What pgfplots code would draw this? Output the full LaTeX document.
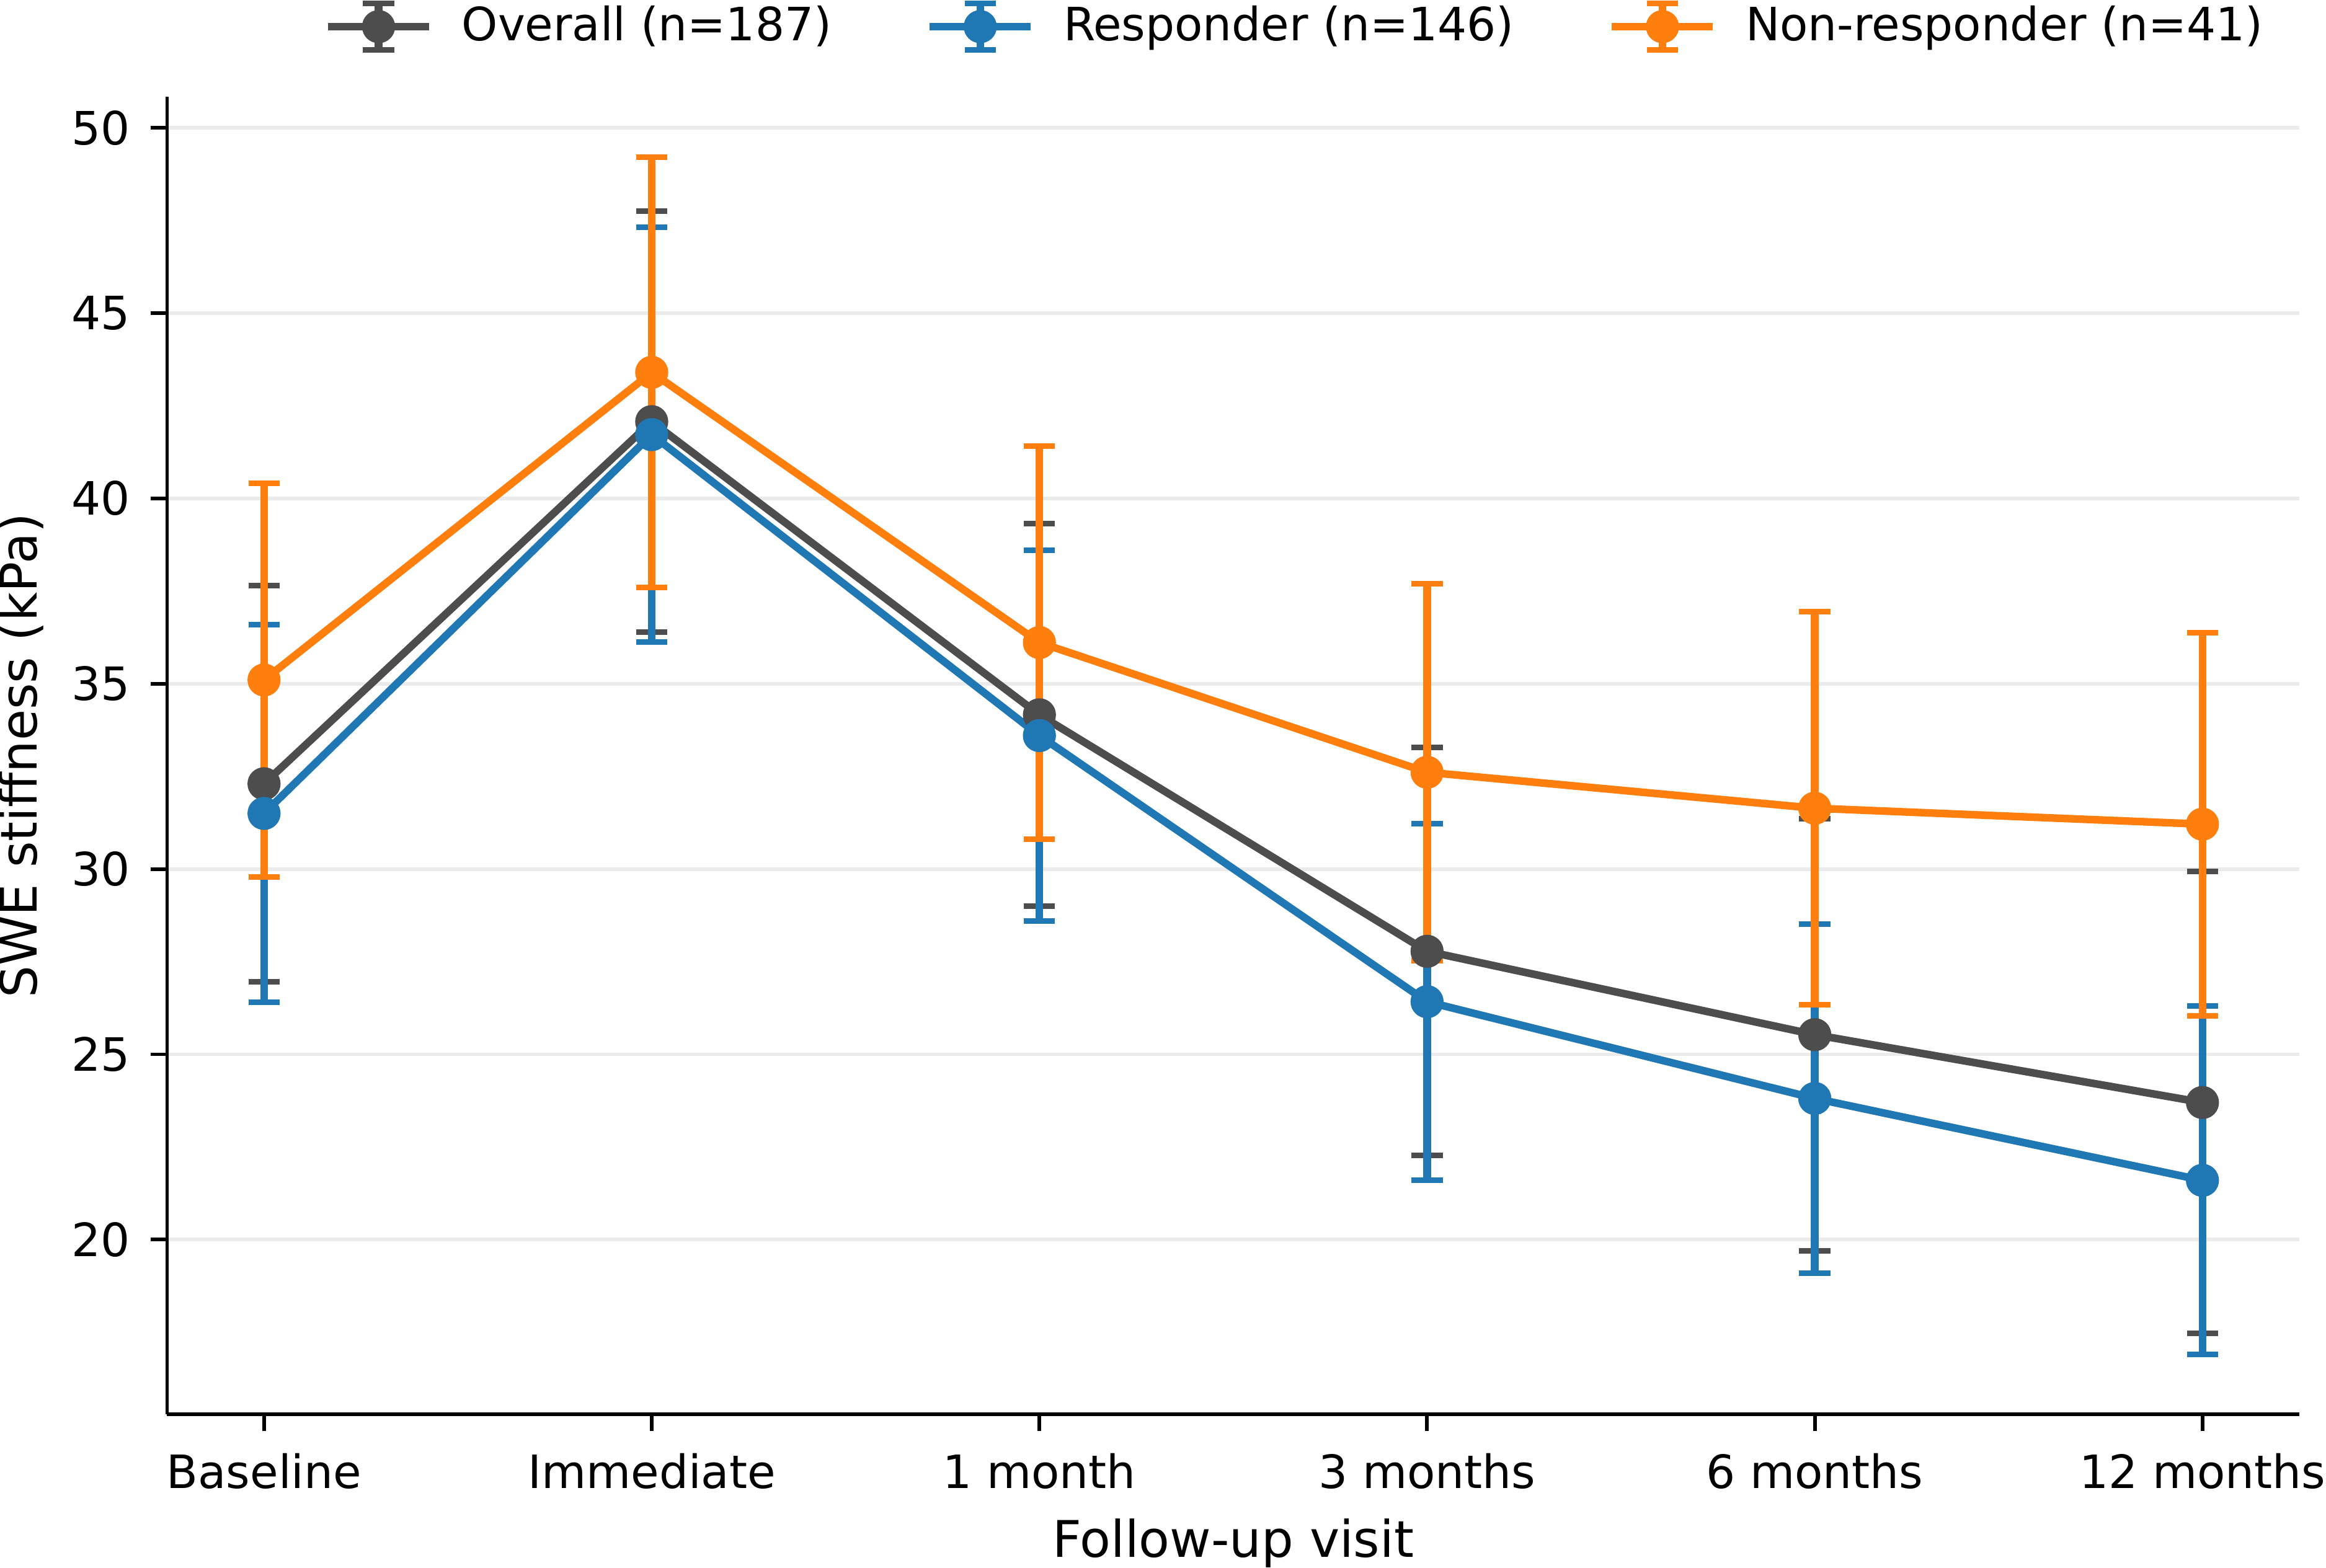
\documentclass[border=0pt]{standalone}
\usepackage{fontspec}
\setmainfont{DejaVu Sans}
\usepackage{pgfplots}
\usepackage{pgfplotstable}
\pgfplotsset{compat=1.18}
\definecolor{cOverall}{RGB}{77,77,77}
\definecolor{cResp}{RGB}{31,119,180}
\definecolor{cNon}{RGB}{255,127,14}
\definecolor{cGrid}{RGB}{235,235,235}

\pgfplotstableread{
x y e
0 32.30 5.35
1 42.07 5.68
2 34.16 5.16
3 27.78 5.50
4 25.53 5.83
5 23.70 6.23
}\overall
\pgfplotstableread{
x y e
0 31.50 5.10
1 41.72 5.60
2 33.60 5.00
3 26.42 4.81
4 23.81 4.71
5 21.60 4.70
}\responder
\pgfplotstableread{
x y e
0 35.10 5.31
1 43.40 5.81
2 36.11 5.30
3 32.61 5.09
4 31.64 5.30
5 31.21 5.17
}\nonresponder

\pgfplotsset{
  errplot/.style={draw=none, mark=none, forget plot,
    error bars/.cd, y dir=both, y explicit,
    error bar style={draw=#1, line width=1.66pt, solid},
    error mark options={draw=#1, rotate=90, mark size=3.4pt, line width=1.2pt}},
  lineplot/.style={color=#1, line width=1.66pt, line join=round,
    mark=*, mark size=2.77pt, mark options={solid, draw=none, fill=#1},
    legend image code/.code={
      \draw[line width=1.66pt,draw=#1] (0pt,0pt) -- (22pt,0pt);
      \draw[line width=1.66pt,draw=#1] (11pt,-5.1pt) -- (11pt,5.1pt);
      \draw[line width=1.2pt,draw=#1] (7.6pt,5.1pt) -- (14.4pt,5.1pt);
      \draw[line width=1.2pt,draw=#1] (7.6pt,-5.1pt) -- (14.4pt,-5.1pt);
      \fill[#1] (11pt,0pt) circle (2.77pt);}},
}

\begin{document}
\begin{tikzpicture}
\begin{axis}[
  name=ax, at={(0,0)}, anchor=south west,
  scale only axis, width=464.2pt, height=286.8pt,
  xmin=-0.25, xmax=5.25, ymin=15.29, ymax=50.83,
  axis x line*=bottom, axis y line*=left,
  axis line style={line width=0.8pt, black},
  xtick={0,1,2,3,4,5},
  xticklabels={Baseline,Immediate,1 month,3 months,6 months,12 months},
  ytick={20,25,30,35,40,45,50},
  minor tick num=0,
  tick align=outside, major tick length=3.6pt,
  every tick/.style={black, line width=0.8pt},
  ymajorgrids, grid style={cGrid, line width=0.8pt},
  tick label style={font=\fontsize{10}{12}\selectfont},
  /pgf/number format/assume math mode=true,
  xticklabel style={anchor=base, inner sep=0pt, yshift=-12.6pt},
  yticklabel style={anchor=east, inner sep=0pt, xshift=-4.3pt},
  xlabel={Follow-up visit}, ylabel={SWE stiffness (kPa)},
  label style={font=\fontsize{11}{13}\selectfont},
  xlabel style={at={(axis description cs:0.5,-0.1085)}, anchor=base, inner sep=0pt},
  ylabel style={at={(axis description cs:-0.0685,0.5)}, anchor=center, inner sep=0pt},
  legend columns=3,
  legend style={draw=none, fill=none, inner sep=0pt, outer sep=0pt,
    at={(0.0737,1.0534)}, anchor=west,
    font=\fontsize{10}{12}\selectfont, nodes={inner sep=0pt, outer sep=0pt},
    /tikz/every odd column/.append style={column sep=6.3pt},
    /tikz/every even column/.append style={column sep=20.5pt}},
  clip=false,
]
\addplot[errplot=cOverall] table[x=x, y=y, y error=e] {\overall};
\addplot[errplot=cResp] table[x=x, y=y, y error=e] {\responder};
\addplot[errplot=cNon] table[x=x, y=y, y error=e] {\nonresponder};
\addplot[lineplot=cOverall] table[x=x, y=y] {\overall};
\addlegendentry{Overall (n=187)}
\addplot[lineplot=cResp] table[x=x, y=y] {\responder};
\addlegendentry{Responder (n=146)}
\addplot[lineplot=cNon] table[x=x, y=y] {\nonresponder};
\addlegendentry{Non-responder (n=41)}
\end{axis}
\pgfresetboundingbox
\path[use as bounding box] (-36.38pt,-33.48pt) rectangle (470.0pt,307.93pt);
\end{tikzpicture}
\end{document}
